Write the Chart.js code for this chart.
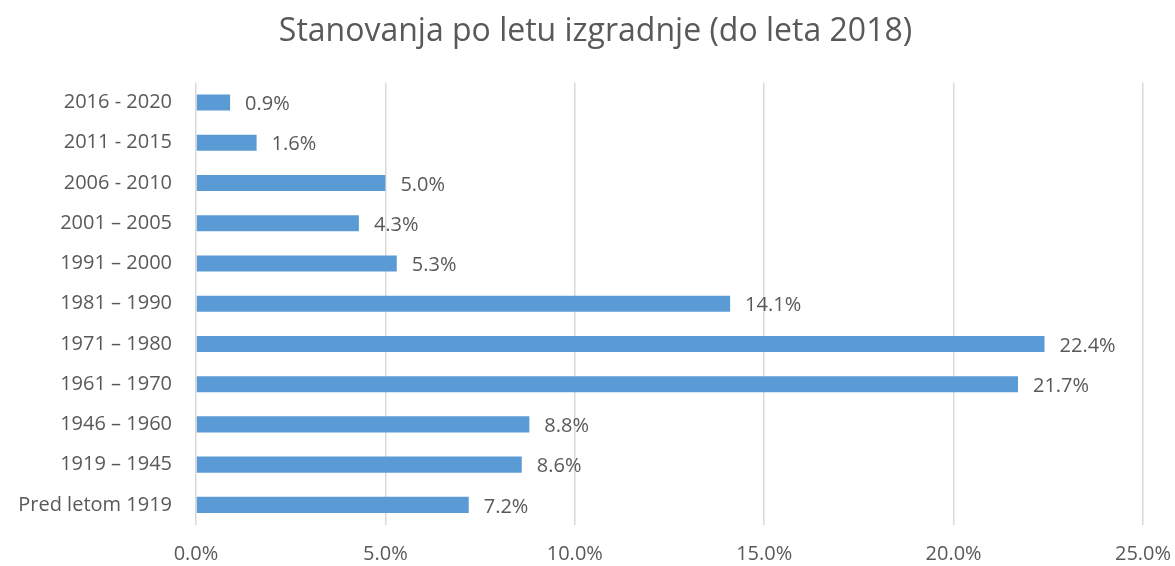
<!DOCTYPE html>
<html>
<head>
<meta charset="utf-8">
<script src="https://cdn.jsdelivr.net/npm/chart.js@4/dist/chart.umd.min.js"></script>
<style>
  body { margin: 0; background: #fff; }
  #wrap { width: 1175px; height: 566px; }
</style>
</head>
<body>
<div id="wrap"><canvas id="stanChart" width="1175" height="566"></canvas></div>
<script>
const categories = ["2016 - 2020", "2011 - 2015", "2006 - 2010", "2001 – 2005", "1991 – 2000",
  "1981 – 1990", "1971 – 1980", "1961 – 1970", "1946 – 1960", "1919 – 1945", "Pred letom 1919"];
const shares = [0.9, 1.6, 5.0, 4.3, 5.3, 14.1, 22.4, 21.7, 8.8, 8.6, 7.2];
const xTicks = [0, 5, 10, 15, 20, 25];

const textColor = "#595959";
const fontFamily = "'Open Sans', sans-serif";

// izpis vrednosti desno od stolpcev
const valueLabels = {
  id: "valueLabels",
  afterDatasetsDraw(chart) {
    const ctx = chart.ctx;
    const meta = chart.getDatasetMeta(0);
    ctx.save();
    ctx.font = "20px " + fontFamily;
    ctx.fillStyle = textColor;
    ctx.textAlign = "left";
    ctx.textBaseline = "middle";
    meta.data.forEach((bar, i) => {
      ctx.fillText(shares[i].toFixed(1) + "%", bar.x + 15, bar.y + 2);
    });
    ctx.restore();
  }
};

// naslov malo bolj desno (kot v izvirniku)
const shiftTitle = {
  id: "shiftTitle",
  afterLayout(chart) {
    if (chart.titleBlock) chart.titleBlock.left += 48;
  }
};

new Chart(document.getElementById("stanChart").getContext("2d"), {
  type: "bar",
  data: {
    labels: categories,
    datasets: [{
      data: shares,
      backgroundColor: "#5B9BD5",
      borderWidth: 0,
      barPercentage: 0.8,
      categoryPercentage: 0.5
    }]
  },
  options: {
    indexAxis: "y",
    responsive: false,
    animation: false,
    layout: { padding: { left: 0, right: 32, top: 0, bottom: 0 } },
    plugins: {
      legend: { display: false },
      tooltip: { enabled: false },
      title: {
        display: true,
        text: "Stanovanja po letu izgradnje (do leta 2018)",
        color: textColor,
        font: { family: fontFamily, size: 32, weight: "normal" },
        padding: { top: 13, bottom: 31 }
      }
    },
    scales: {
      x: {
        min: 0,
        max: 25,
        afterBuildTicks: scale => { scale.ticks = xTicks.map(v => ({ value: v })); },
        ticks: {
          color: textColor,
          font: { family: fontFamily, size: 20 },
          padding: 17,
          maxRotation: 0,
          callback: v => v.toFixed(1) + "%"
        },
        grid: { color: "#d9d9d9", lineWidth: 1.5, drawTicks: false },
        border: { display: false },
        afterFit: s => { s.height = 41; s.paddingLeft = 0; s.paddingRight = 0; }
      },
      y: {
        ticks: {
          color: textColor,
          font: { family: fontFamily, size: 20 },
          padding: 24
        },
        grid: { display: false, drawTicks: false },
        border: { display: false },
        afterFit: s => { s.width = 196; }
      }
    }
  },
  plugins: [valueLabels, shiftTitle]
});
</script>
</body>
</html>
